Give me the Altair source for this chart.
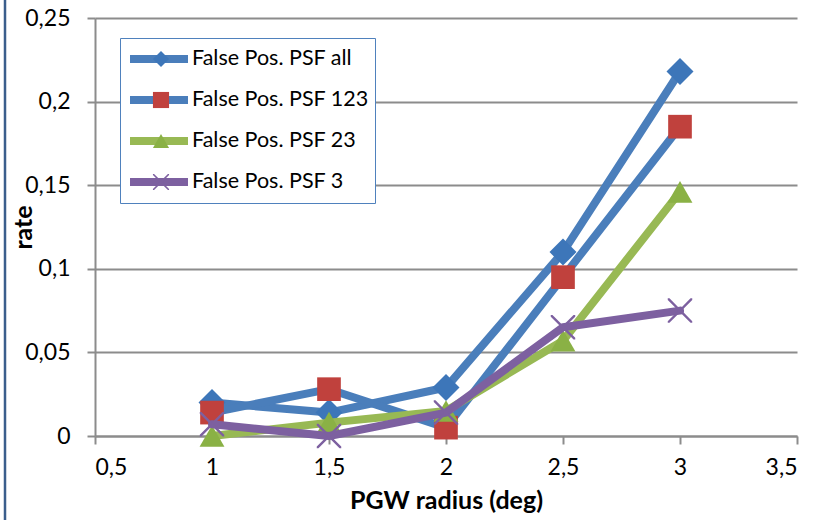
import altair as alt
import pandas as pd

# PGW radius (deg) on the x axis
radius = [1, 1.5, 2, 2.5, 3]

series_names = [
    "False Pos. PSF all",
    "False Pos. PSF 123",
    "False Pos. PSF 23",
    "False Pos. PSF 3",
]
# short keys for the marker scales, so their legend stays separate
marker_keys = ["all", "123", "23", "3"]

# false positive rate per radius, one list per series
psf_all = [0.020, 0.014, 0.029, 0.110, 0.218]
psf_123 = [0.014, 0.028, 0.005, 0.095, 0.185]
psf_23 = [0.000, 0.008, 0.015, 0.057, 0.146]
psf_3 = [0.007, 0.000, 0.014, 0.065, 0.075]

x_ticks = [0.5, 1, 1.5, 2, 2.5, 3, 3.5]
y_ticks = [0, 0.05, 0.1, 0.15, 0.2, 0.25]

line_colors = ["#4A7EBB", "#4A7EBB", "#98B954", "#7D60A0"]
marker_colors = ["#3D76B9", "#C0413D", "#8AB145", "#7D60A0"]
marker_sizes = [730, 560, 620, 600]

# thin "x" marker drawn as a filled outline in the unit square
s = 0.14
X_PATH = (
    f"M0,{s}L{1-s},1L1,1L1,{1-s}L{s},0L1,{-1+s}L1,-1L{1-s},-1"
    f"L0,{-s}L{-1+s},-1L-1,-1L-1,{-1+s}L{-s},0L-1,{1-s}L-1,1L{-1+s},1Z"
)
marker_shapes = ["diamond", "square", "triangle-up", X_PATH]

rows = []
for name, key, values in zip(series_names, marker_keys, [psf_all, psf_123, psf_23, psf_3]):
    for r, v in zip(radius, values):
        rows.append({"series": name, "marker": key, "radius": r, "rate": v})
df = pd.DataFrame(rows)

FONT = "Lato"
AXIS_GREY = "#8C8C8C"

x_enc = alt.X(
    "radius:Q",
    scale=alt.Scale(domain=[0.5, 3.5], nice=False, zero=False),
    axis=alt.Axis(
        values=x_ticks,
        title="PGW radius (deg)",
        grid=False,
        labelExpr="replace(format(datum.value, '.1~f'), '.', ',')",
        labelPadding=12,
        titleY=52,
    ),
)
y_enc = alt.Y(
    "rate:Q",
    scale=alt.Scale(domain=[0, 0.25], nice=False),
    axis=alt.Axis(
        values=y_ticks,
        title="rate",
        grid=True,
        labelExpr="replace(format(datum.value, '.2~f'), '.', ',')",
        labelPadding=17,
        titleX=-59,
        titleY=209,
    ),
)

# line legend: coloured strokes with the series names
stroke_enc = alt.Stroke(
    "series:N",
    scale=alt.Scale(domain=series_names, range=line_colors),
    legend=alt.Legend(
        title=None,
        orient="none",
        legendX=25,
        legendY=20,
        symbolType="M-1,0H1",
        symbolSize=3364,
        symbolStrokeWidth=8,
        labelFont=FONT,
        labelFontSize=21.5,
        labelColor="#000000",
        labelOffset=0,
        labelLimit=400,
        clipHeight=30,
        rowPadding=11,
        padding=6,
        strokeColor="#4F81BD",
        fillColor="#FFFFFF",
        zindex=1,
    ),
)
# marker legend laid over the line legend, without labels
marker_legend = alt.Legend(
    title=None,
    orient="none",
    legendX=49,
    legendY=20,
    symbolSize=260,
    symbolStrokeWidth=0,
    labelExpr="''",
    labelFontSize=22,
    labelOffset=0,
    clipHeight=30,
    rowPadding=11,
    padding=6,
    zindex=2,
)
fill_enc = alt.Fill(
    "marker:N",
    scale=alt.Scale(domain=marker_keys, range=marker_colors),
    legend=marker_legend,
)
shape_enc = alt.Shape(
    "marker:N",
    scale=alt.Scale(domain=marker_keys, range=marker_shapes),
    legend=marker_legend,
)

base = alt.Chart(df).encode(x=x_enc, y=y_enc)

layers = []
# each series draws its line, then its markers, in series order
for name, msize in zip(series_names, marker_sizes):
    sub = base.transform_filter(alt.datum.series == name)
    layers.append(
        sub.mark_line(strokeWidth=8, strokeJoin="round", strokeCap="round").encode(
            stroke=stroke_enc
        )
    )
    layers.append(
        sub.mark_point(filled=True, opacity=1, strokeWidth=0, size=msize).encode(
            fill=fill_enc, shape=shape_enc
        )
    )

# dark frame edge down the left side of the chart
frame = (
    alt.Chart(pd.DataFrame({"edge": [0]}))
    .mark_rule(color="#3B5E8C", strokeWidth=2.5)
    .encode(x=alt.value(-90), y=alt.value(-18), y2=alt.value(502))
)

chart = (
    alt.layer(frame, *layers)
    .properties(
        width=702,
        height=418,
        padding={"left": 95, "top": 18, "right": 32, "bottom": 84},
        autosize=alt.AutoSizeParams(type="none"),
    )
    .configure_view(stroke=None)
    .configure_axis(
        labelFont=FONT,
        labelFontSize=23,
        labelColor="#000000",
        titleFont=FONT,
        titleFontSize=25,
        titleFontWeight="bold",
        titleColor="#000000",
        domainColor=AXIS_GREY,
        domainWidth=2,
        tickColor=AXIS_GREY,
        tickWidth=2,
        tickSize=8,
        gridColor=AXIS_GREY,
        gridWidth=2,
        gridOpacity=1,
    )
    .configure_axisY(titleAngle=-90)
)

chart.save("out.html", embed_options={"renderer": "svg", "actions": False})
